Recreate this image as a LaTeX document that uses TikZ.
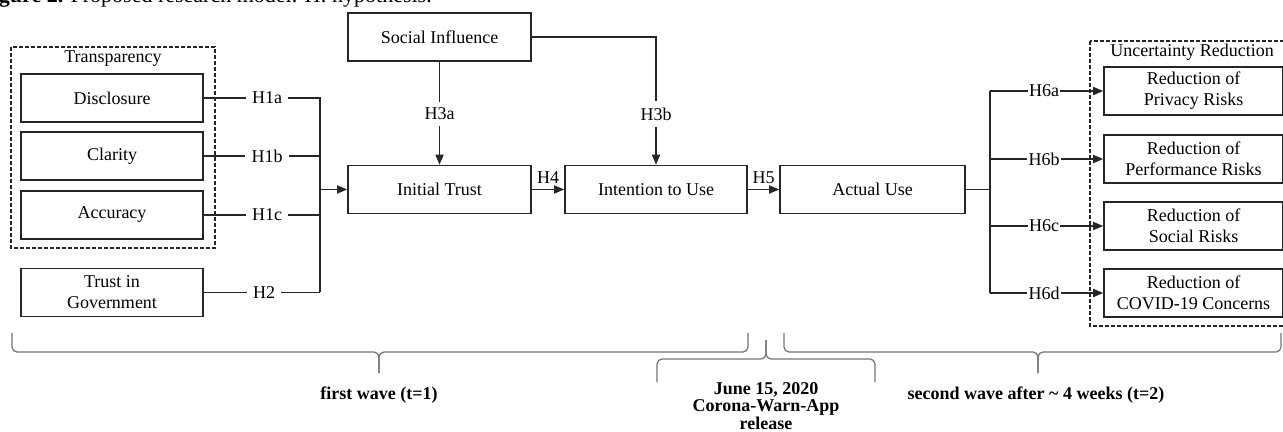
\documentclass[tikz,border=0pt]{standalone}
\usepackage{fontspec}
\setmainfont{Liberation Serif}
\usetikzlibrary{arrows.meta}

\tikzset{
    box/.style={draw=black!85, line width=0.8pt, inner sep=0pt, align=center,
        minimum width=91pt, minimum height=24pt, font=\fontsize{9}{10.5}\selectfont},
    dashbox/.style={draw=black!85, line width=0.7pt, dash pattern=on 2pt off 1pt},
    hyp/.style={inner sep=3pt, font=\fontsize{9}{10.5}\selectfont},
    hyptight/.style={inner sep=0.5pt, font=\fontsize{9}{10.5}\selectfont},
    link/.style={draw=black!85, line width=0.8pt},
    arr/.style={link, -{Triangle[length=5pt,width=4pt]}},
    bracel/.style={draw=black!55, line width=0.6pt, rounded corners=2.5pt},
    wave/.style={inner sep=0pt, align=center, font=\bfseries\fontsize{9}{8.8}\selectfont},
}

\begin{document}
\begin{tikzpicture}[x=0.5pt,y=-0.5pt]
    \useasboundingbox (0,0) rectangle (1283,432);
    \clip (0,0) rectangle (1283,432);

    % Text Node
    \node (caption) at (-21,3) [anchor=base west, inner sep=0pt, font=\fontsize{11}{13}\selectfont]
        {\textbf{Figure 2.} Proposed research model. H: hypothesis.};

    % Shape: Rectangle
    \draw[dashbox] (11,47) rectangle (215,248);
    \draw[dashbox] (1090,41) rectangle (1295,326);
    % Text Node
    \node (transp) at (113,59) [hyptight] {Transparency};
    \node (uncert) at (1192,52) [hyptight] {Uncertainty Reduction};

    % left column
    \node (disc) at (112,98) [box] {Disclosure};
    \node (clar) at (112,156) [box] {Clarity};
    \node (accu) at (112,215) [box] {Accuracy};
    \node (trgov) at (112,292.5) [box] {Trust in\\Government};

    % middle row
    \node (social) at (439.5,37) [box, minimum width=91.5pt] {Social Influence};
    \node (trust) at (439.5,189.5) [box, minimum width=91.5pt] {Initial Trust};
    \node (intent) at (656,189.5) [box] {Intention to Use};
    \node (actual) at (872.5,189.5) [box, minimum width=92.5pt] {Actual Use};

    % right column
    \node (privacy) at (1193.5,91) [box, minimum width=89.5pt] {Reduction of\\Privacy Risks};
    \node (perf) at (1193.5,159) [box, minimum width=89.5pt] {Reduction of\\Performance Risks};
    \node (socrisk) at (1193.5,226) [box, minimum width=89.5pt] {Reduction of\\Social Risks};
    \node (covid) at (1193.5,293) [box, minimum width=89.5pt] {Reduction of\\COVID-19 Concerns};

    % Text Node
    \node (h1a) at (267,98) [hyp] {H1a};
    \node (h1b) at (267,156) [hyp] {H1b};
    \node (h1c) at (267,215) [hyp] {H1c};
    \node (h2) at (264,292.5) [hyp] {H2};
    \node (h3a) at (439.5,114) [hyp] {H3a};
    \node (h3b) at (656,114) [hyp] {H3b};
    \node (h6a) at (1044,91) [hyptight] {H6a};
    \node (h6b) at (1044,159) [hyptight] {H6b};
    \node (h6c) at (1044,226) [hyptight] {H6c};
    \node (h6d) at (1044,293) [hyptight] {H6d};

    \coordinate (ja) at (320,98);
    \coordinate (jm) at (320,189.5);
    \coordinate (jd) at (320,292.5);
    \coordinate (jr) at (990,189.5);
    \coordinate (ka) at (990,91);
    \coordinate (kd) at (990,293);

    % Straight Lines
    \draw[link] (disc) -- (h1a) -- (ja) -- (jd);
    \draw[link] (clar) -- (h1b) -- (h1b -| ja);
    \draw[link] (accu) -- (h1c) -- (h1c -| ja);
    \draw[link] (trgov) -- (h2) -- (jd);
    \draw[arr] (jm) -- (trust);
    \draw[link] (social) -- (h3a);
    \draw[arr] (h3a) -- (trust);
    \draw[link] (social) -| (h3b);
    \draw[arr] (h3b) -- (intent);
    \draw[arr] (trust) -- node[above=2pt, hyptight] {H4} (intent);
    \draw[arr] (intent) -- node[above=2pt, hyptight] {H5} (actual);
    \draw[link] (actual) -- (jr);
    \draw[link] (ka) -- (kd);
    \draw[link] (ka) -- (h6a);
    \draw[arr] (h6a) -- (privacy);
    \draw[link] (h6b -| ka) -- (h6b);
    \draw[arr] (h6b) -- (perf);
    \draw[link] (h6c -| ka) -- (h6c);
    \draw[arr] (h6c) -- (socrisk);
    \draw[link] (kd) -- (h6d);
    \draw[arr] (h6d) -- (covid);

    % Braces
    \coordinate (tipone) at (379,373);
    \coordinate (tiprel) at (766,340);
    \coordinate (tiptwo) at (1038,373);
    \draw[bracel] (12,333) |- (379,352) -- (tipone);
    \draw[bracel] (748,333) |- (379,352) -- (tipone);
    \draw[bracel] (657,382) |- (766,359) -- (tiprel);
    \draw[bracel] (875,382) |- (766,359) -- (tiprel);
    \draw[bracel] (784,333) |- (1038,352) -- (tiptwo);
    \draw[bracel] (1281,333) |- (1038,352) -- (tiptwo);

    % Text Node
    \node (waveone) at (379,395) [wave] {first wave (t=1)};
    \node (release) at (766,406) [wave] {June 15, 2020\\Corona-Warn-App\\release};
    \node (wavetwo) at (1036,395) [wave] {second wave after \textasciitilde{} 4 weeks (t=2)};
\end{tikzpicture}
\end{document}
